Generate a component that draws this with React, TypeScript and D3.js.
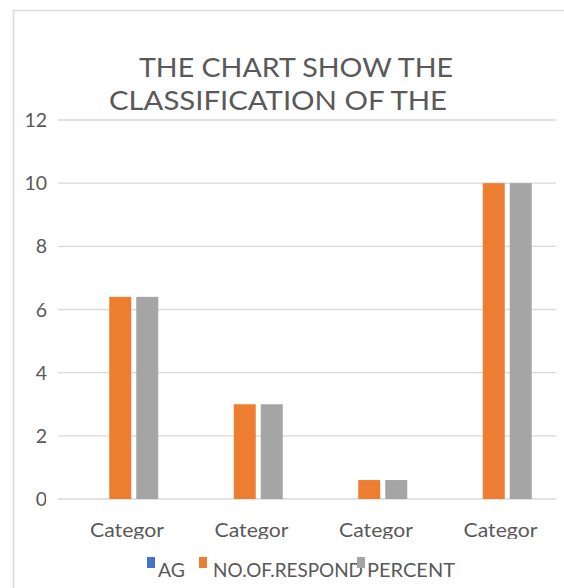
import { useMemo } from "react";
import * as d3 from "d3";

const categories = ["Category 1", "Category 2", "Category 3", "Category 4"];
const categoryLabels = ["Categor", "Categor", "Categor", "Categor"];
const seriesNames = ["AG", "NO.OF.RESPOND", "PERCENT"];
const agValues = [0, 0, 0, 0];
const respondValues = [6.4, 3, 0.6, 10];
const percentValues = [6.4, 3, 0.6, 10];
const yTicks = [0, 2, 4, 6, 8, 10, 12];
const titleLines = ["THE CHART SHOW THE", "CLASSIFICATION OF THE"];

const colors = ["#4472C4", "#ED7D31", "#A5A5A5"];
const textColor = "#595959";
const font = "Lato, 'Open Sans', sans-serif";

export default function App() {
  const width = 564;
  const height = 588;
  const plot = { left: 58, right: 556, top: 120, bottom: 499 };

  const series = [agValues, respondValues, percentValues];

  const x = useMemo(
    () => d3.scaleBand<string>().domain(categories).range([plot.left, plot.right]),
    []
  );
  const xInner = useMemo(
    () => d3.scaleBand<string>().domain(seriesNames).range([0, 76]).paddingInner(5 / 27),
    []
  );
  const y = useMemo(
    () => d3.scaleLinear().domain([0, 12]).range([plot.bottom, plot.top]),
    []
  );

  const groupOffset = (x.bandwidth() - 76) / 2;

  // legend layout (swatch x, text x, text width)
  const legend = [
    { sx: 147, tx: 158, w: 27 },
    { sx: 199, tx: 213, w: 150 },
    { sx: 357, tx: 367, w: 88 },
  ];

  return (
    <svg
      width={width}
      height={height}
      style={{ position: "absolute", left: 0, top: 0, background: "#fff" }}
      fontFamily={font}
    >
      <defs>
        <clipPath id="zeroClip">
          <rect x={0} y={0} width={46} height={height} />
        </clipPath>
        <clipPath id="catClip">
          <rect x={0} y={0} width={width} height={539} />
        </clipPath>
      </defs>

      {/* chart border */}
      <rect x={13.5} y={10.5} width={600} height={600} fill="none" stroke="#d9d9d9" strokeWidth={1.5} />

      {/* title, two wrapped lines */}
      <text x={296} y={76.5} textAnchor="middle" fontSize={27.5} fill={textColor} textLength={314} lengthAdjust="spacingAndGlyphs">
        {titleLines[0]}
      </text>
      <text x={278} y={110} textAnchor="middle" fontSize={27.5} fill={textColor} textLength={338} lengthAdjust="spacingAndGlyphs">
        {titleLines[1]}
      </text>

      {/* gridlines */}
      {yTicks.map((t) => (
        <line key={t} x1={plot.left} x2={plot.right} y1={y(t)} y2={y(t)} stroke="#d9d9d9" strokeWidth={1.3} />
      ))}

      {/* y labels */}
      {yTicks.map((t) => (
        <text
          key={t}
          x={47}
          y={y(t) + 7}
          textAnchor="end"
          fontSize={19.5}
          fill={textColor}
          clipPath={t === 0 ? "url(#zeroClip)" : undefined}
        >
          {t}
        </text>
      ))}

      {/* bars */}
      {series.map((vals, si) =>
        vals.map((v, ci) => {
          const bx = (x(categories[ci]) ?? 0) + groupOffset + (xInner(seriesNames[si]) ?? 0);
          return (
            <rect
              key={`${si}-${ci}`}
              x={bx}
              y={y(v)}
              width={xInner.bandwidth()}
              height={y(0) - y(v)}
              fill={colors[si]}
            />
          );
        })
      )}

      {/* category labels */}
      <g clipPath="url(#catClip)">
        {categories.map((c, i) => (
          <text
            key={c}
            x={(x(c) ?? 0) + 32}
            y={537}
            fontSize={20}
            fill={textColor}
            textLength={74}
            lengthAdjust="spacingAndGlyphs"
          >
            {categoryLabels[i]}
          </text>
        ))}
      </g>

      {/* legend */}
      {seriesNames.map((s, i) => (
        <g key={s}>
          <rect x={legend[i].sx} y={557} width={8} height={11} fill={colors[i]} />
          <text
            x={legend[i].tx}
            y={577}
            fontSize={19.5}
            fill={textColor}
            textLength={legend[i].w}
            lengthAdjust="spacingAndGlyphs"
          >
            {s}
          </text>
        </g>
      ))}
    </svg>
  );
}
